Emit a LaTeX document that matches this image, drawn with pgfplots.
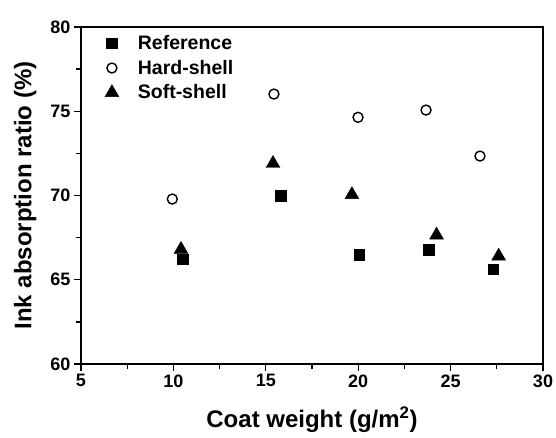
\documentclass[border=0pt]{standalone}
\usepackage{fontspec}
\setmainfont{Liberation Sans}
\usepackage{pgfplots}
\pgfplotsset{compat=1.18}
\begin{document}
\begin{tikzpicture}
\begin{axis}[
  overlay,
  scale only axis, width=462pt, height=337pt,
  at={(0,0)}, anchor=south west,
  xmin=5, xmax=30, ymin=60, ymax=80,
  xtick={5,10,...,30}, ytick={60,65,...,80},
  minor tick num=1,
  tick align=outside, xtick pos=bottom, ytick pos=left,
  major tick length=7pt, minor tick length=5pt,
  axis line style={line width=1.6pt},
  major tick style={line width=1.3pt, black},
  minor tick style={line width=1.3pt, black},
  tick label style={font=\fontsize{18}{20}\selectfont\bfseries},
  /pgf/number format/assume math mode=true,
  xlabel={Coat weight (g/m\textsuperscript{2})},
  ylabel={Ink absorption ratio (\%)},
  label style={font=\fontsize{24}{28}\selectfont\bfseries},
  xlabel style={at={(axis description cs:0.5,-0.165)}, anchor=center},
  ylabel style={at={(axis description cs:-0.121,0.5)}, anchor=center},
  legend style={draw=none, fill=none, at={(0.045,0.987)}, anchor=north west,
    font=\fontsize{19.5}{21}\selectfont\bfseries, row sep=5pt,
    /tikz/every odd column/.style={column sep=17pt}},
  legend cell align=left,
]
\addplot[only marks, mark=square*, mark size=5.3pt, black] coordinates {
(10.50,66.21) (15.82,70.00) (20.06,66.47) (23.83,66.77) (27.31,65.62)};
\addlegendentry{Reference}
\addplot[only marks, mark=o, mark size=5pt, line width=1.4pt, black] coordinates {
(9.94,69.79) (15.44,76.02) (19.99,74.64) (23.67,75.07) (26.59,72.34)};
\addlegendentry{Hard-shell}
\addplot[only marks, mark=triangle*, mark size=8pt, black] coordinates {
(10.41,66.80) (15.39,71.90) (19.66,70.05) (24.24,67.65) (27.60,66.40)};
\addlegendentry{Soft-shell}
\end{axis}
\path (-81pt,-73pt) rectangle (475pt,364pt);
\end{tikzpicture}
\end{document}
